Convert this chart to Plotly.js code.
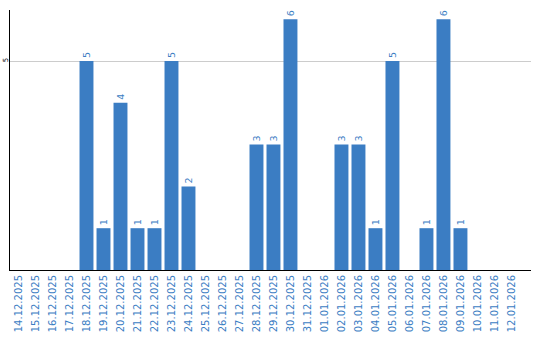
<!DOCTYPE html>
<html>
<head>
<meta charset="utf-8">
<script src="https://cdn.plot.ly/plotly-3.0.1.min.js"></script>
<style>html,body{margin:0;padding:0;background:#fff}#chart{width:540px;height:340px}</style>
</head>
<body>
<div id="chart"></div>
<script>
const dates = ["14.12.2025","15.12.2025","16.12.2025","17.12.2025","18.12.2025","19.12.2025","20.12.2025","21.12.2025","22.12.2025","23.12.2025","24.12.2025","25.12.2025","26.12.2025","27.12.2025","28.12.2025","29.12.2025","30.12.2025","31.12.2025","01.01.2026","02.01.2026","03.01.2026","04.01.2026","05.01.2026","06.01.2026","07.01.2026","08.01.2026","09.01.2026","10.01.2026","11.01.2026","12.01.2026"];
const counts = [0,0,0,0,5,1,4,1,1,5,2,0,0,0,3,3,6,0,0,3,3,1,5,0,1,6,1,0,0,0];
const yTicks = [5];

const blue = '#3b7dc3';
const trace = {
  type: 'bar',
  x: dates,
  y: counts,
  text: counts.map(v => v > 0 ? String(v) : ''),
  textposition: 'outside',
  textangle: -90,
  cliponaxis: false,
  textfont: {family: 'DejaVu Sans', size: 9.5, color: blue},
  marker: {color: blue},
  hoverinfo: 'x+y'
};
const layout = {
  width: 540, height: 340,
  margin: {l: 10, r: 9, t: 10, b: 70},
  paper_bgcolor: '#fff', plot_bgcolor: '#fff',
  showlegend: false,
  bargap: 0.18,
  xaxis: {
    type: 'category',
    range: [-0.5, 30.15],
    tickangle: -90,
    tickfont: {family: 'DejaVu Sans', size: 10, color: blue},
    showline: true, linecolor: '#000', linewidth: 1,
    showgrid: false, ticks: '', zeroline: false
  },
  yaxis: {
    range: [0, 6.22],
    tickvals: yTicks,
    ticktext: yTicks.map(String),
    tickangle: -90,
    ticklabelstandoff: -2,
    tickfont: {family: 'DejaVu Sans', size: 7, color: '#000'},
    showline: true, linecolor: '#000', linewidth: 1,
    showgrid: true, gridcolor: '#cccccc', gridwidth: 1,
    zeroline: false, ticks: '', ticklen: 0
  }
};
Plotly.newPlot('chart', [trace], layout, {staticPlot: true, displayModeBar: false});
</script>
</body>
</html>
